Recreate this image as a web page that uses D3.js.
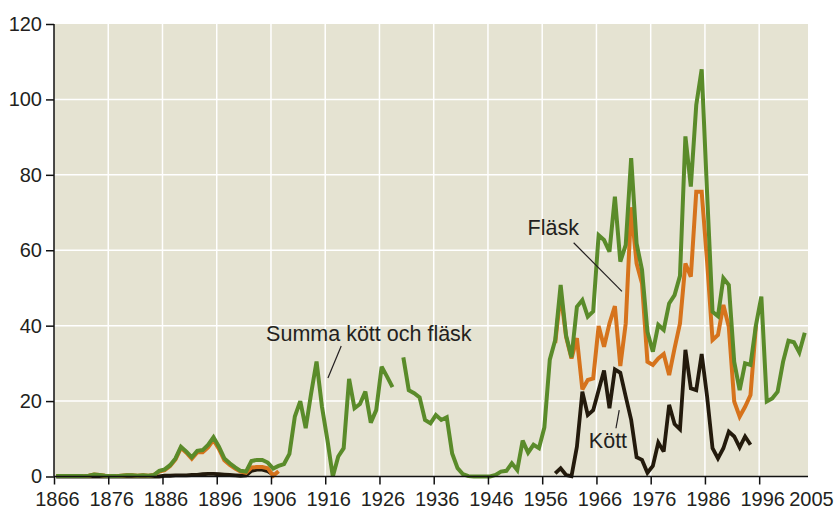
<!DOCTYPE html>
<html>
<head>
<meta charset="utf-8">
<script src="https://cdn.jsdelivr.net/npm/d3@7"></script>
<style>
  body { margin: 0; background: #fff; }
  svg text { font-family: "Liberation Sans", Arial, sans-serif; fill: #231f20; }
</style>
</head>
<body>
<div id="chart"></div>
<script>
// data (index 0 = first year of each array)
const summaStart = 1866;
const summa = [
  0.1, 0.1, 0.1, 0.1, 0.1, 0.1, 0.2, 0.5, 0.4, 0.2,      // 1866-1875
  0.1, 0.1, 0.2, 0.3, 0.3, 0.2, 0.3, 0.2, 0.4, 1.5,      // 1876-1885
  1.9, 3.0, 4.8, 7.9, 6.6, 5.1, 6.8, 7.0, 8.4, 10.4,     // 1886-1895
  7.9, 4.8, 3.5, 2.4, 1.5, 1.3, 4.1, 4.4, 4.4, 3.7,      // 1896-1905
  2.1, 2.8, 3.3, 6.0, 15.9, 20.0, 12.8, 22.0, 30.5, 18.5, // 1906-1915
  9.7, 0, 5.3, 7.5, 25.9, 18.1, 19.2, 22.5, 14.3, 17.6,  // 1916-1925
  29.1, 26.5, 23.7, null, 31.6, 22.9, 22.1, 21.0, 15.0, 14.1, // 1926-1935
  16.3, 15.0, 15.7, 6.1, 2.2, 0.6, 0.1, 0, 0, 0,         // 1936-1945
  0, 0.4, 1.3, 1.5, 3.5, 1.7, 9.5, 6.3, 8.4, 7.5,        // 1946-1955
  13.0, 31.0, 36.2, 50.8, 37.4, 31.6, 45.0, 46.8, 42.4, 43.8, // 1956-1965
  64.0, 62.7, 59.6, 74.2, 57.0, 61.4, 84.4, 61.8, 54.8, 38.4, // 1966-1975
  33.1, 40.2, 38.9, 45.9, 48.1, 53.2, 90.2, 76.9, 98.5, 108.0, // 1976-1985
  75.0, 43.7, 42.5, 52.6, 50.8, 30.4, 22.9, 30.0, 29.6, 40.1, // 1986-1995
  47.7, 19.9, 20.7, 22.5, 30.4, 36.0, 35.6, 32.9, 38.1   // 1996-2004
];

const flaskEarlyStart = 1866;
const flaskEarly = [
  0.1, 0.1, 0.1, 0.1, 0.1, 0.1, 0.2, 0.5, 0.4, 0.2,
  0.1, 0.1, 0.2, 0.3, 0.3, 0.2, 0.3, 0.2, 0.4, 1.3,
  1.7, 2.8, 4.5, 7.6, 6.3, 4.7, 6.4, 6.4, 7.7, 9.7,
  7.3, 4.3, 3.1, 2.1, 1.3, 1.0, 2.4, 2.5, 2.5, 2.2,
  0.2, 1.4                                               // ..1907
];
const flaskLateStart = 1958;
const flaskLate = [
  35.4, 48.6, 37.0, 31.3, 36.7, 23.1, 25.6, 26.0,        // 1958-1965
  39.9, 34.4, 40.6, 45.2, 29.3, 40.6, 71.4, 56.5, 51.2, 30.4, // 1966-1975
  29.6, 31.3, 32.5, 26.9, 34.0, 40.6, 56.5, 53.0, 75.5, 75.5, // 1976-1985
  57.0, 36.2, 37.5, 45.5, 39.7, 19.9, 15.9, 18.5, 21.6, 40.0  // 1986-1995
];

const kottEarlyStart = 1866;
const kottEarly = [
  0, 0, 0, 0, 0, 0, 0, 0, 0, 0,
  0, 0, 0, 0, 0, 0, 0, 0, 0, 0,
  0.2, 0.2, 0.3, 0.3, 0.3, 0.4, 0.4, 0.6, 0.7, 0.7,
  0.6, 0.5, 0.4, 0.3, 0.2, 0.3, 1.5, 1.8, 1.8, 1.4,
  0.5                                                    // ..1906
];
const kottLateStart = 1958;
const kottLate = [
  0.8, 2.2, 0.4, 0.1, 7.9, 22.5, 16.3, 17.6,
  22.9, 28.1, 18.1, 28.4, 27.5, 21.2, 15.0, 5.1, 4.4, 1.0,
  2.8, 9.0, 6.6, 19.0, 13.9, 12.5, 33.6, 23.4, 22.9, 32.5,
  21.2, 7.5, 4.8, 7.5, 11.9, 10.6, 7.7, 10.6, 8.4        // ..1994
];

const xTicks = [1866, 1876, 1886, 1896, 1906, 1916, 1926, 1936, 1946, 1956, 1966, 1976, 1986, 1996];
const xLastLabel = 2005;
const yTicks = [0, 20, 40, 60, 80, 100, 120];

const width = 840, height = 510;
const margin = { top: 24, right: 32, bottom: 33.5, left: 54 };

const svg = d3.select("#chart").append("svg")
  .attr("width", width)
  .attr("height", height);

const x = d3.scaleLinear().domain([1866, 2005]).range([margin.left, width - margin.right]);
const y = d3.scaleLinear().domain([0, 120]).range([height - margin.bottom, margin.top]);

// plot background
svg.append("rect")
  .attr("x", x(1866)).attr("y", y(120))
  .attr("width", x(2005) - x(1866)).attr("height", y(0) - y(120))
  .attr("fill", "#e5e3d2");

// grid
svg.append("g").selectAll("line")
  .data(yTicks.filter(d => d > 0 && d < 120))
  .enter().append("line")
  .attr("x1", x(1866)).attr("x2", x(2005))
  .attr("y1", d => y(d)).attr("y2", d => y(d))
  .attr("stroke", "#fff").attr("stroke-width", 1.5);

svg.append("g").selectAll("line")
  .data(xTicks.slice(1))
  .enter().append("line")
  .attr("x1", d => x(d)).attr("x2", d => x(d))
  .attr("y1", y(0)).attr("y2", y(120))
  .attr("stroke", "#fff").attr("stroke-width", 1.5);

// turn an array + start year into points (points sit mid-year)
function toPoints(start, arr) {
  return arr.map((v, i) => ({ year: start + i, v: v }));
}

const line = d3.line()
  .defined(d => d.v !== null)
  .x(d => x(d.year + 0.4))
  .y(d => y(d.v));

const series = [
  { pts: toPoints(kottEarlyStart, kottEarly), color: "#231a0c", w: 3.8 },
  { pts: toPoints(kottLateStart, kottLate), color: "#231a0c", w: 3.8 },
  { pts: toPoints(flaskEarlyStart, flaskEarly), color: "#d6731c", w: 4 },
  { pts: toPoints(flaskLateStart, flaskLate), color: "#d6731c", w: 4 },
  { pts: toPoints(summaStart, summa), color: "#5a8b2a", w: 4 }
];

svg.append("g").selectAll("path")
  .data(series)
  .enter().append("path")
  .attr("d", d => line(d.pts))
  .attr("fill", "none")
  .attr("stroke", d => d.color)
  .attr("stroke-width", d => d.w)
  .attr("stroke-linejoin", "miter")
  .attr("stroke-miterlimit", 3);

// axes
const yAxis = svg.append("g")
  .attr("transform", `translate(${x(1866)},0)`)
  .call(d3.axisLeft(y).tickValues(yTicks).tickSize(8).tickPadding(4));

const xAxis = svg.append("g")
  .attr("transform", `translate(0,${y(0)})`)
  .call(d3.axisBottom(x).tickValues(xTicks.concat([xLastLabel])).tickSize(8).tickPadding(7).tickFormat(d3.format("d")));

[yAxis, xAxis].forEach(g => {
  g.select(".domain").attr("stroke", "#111").attr("stroke-width", 1.5);
  g.selectAll(".tick line").attr("stroke", "#111").attr("stroke-width", 1.5);
  g.selectAll(".tick text")
    .attr("font-family", "'Liberation Sans', Arial, sans-serif")
    .attr("font-size", 20)
    .attr("fill", "#231f20");
});
yAxis.select(".domain").attr("d", `M0,${y(0)}V${y(120)}`);
xAxis.select(".domain").attr("d", `M${x(1866)},0H${x(2005)}`);
xAxis.selectAll(".tick text").attr("dx", 3);
xAxis.selectAll(".tick").filter(d => d === xLastLabel).select("line").remove();

// annotations
const notes = [
  { text: "Summa kött och fläsk", tx: 1905.1, ty: 35.9, from: [1918.95, 34.6], to: [1916.5, 26.1] },
  { text: "Fläsk", tx: 1953.3, ty: 64.0, from: [1961.8, 62.0], to: [1970.7, 49.1] },
  { text: "Kött", tx: 1964.6, ty: 7.5, from: [1970.2, 17.6], to: [1969.6, 12.8] }
];

const ann = svg.append("g");
notes.forEach(n => {
  ann.append("text")
    .attr("x", x(n.tx)).attr("y", y(n.ty))
    .attr("font-size", 21.5)
    .text(n.text);
  ann.append("line")
    .attr("x1", x(n.from[0])).attr("y1", y(n.from[1]))
    .attr("x2", x(n.to[0])).attr("y2", y(n.to[1]))
    .attr("stroke", "#231f20").attr("stroke-width", 1.2);
});
</script>
</body>
</html>
